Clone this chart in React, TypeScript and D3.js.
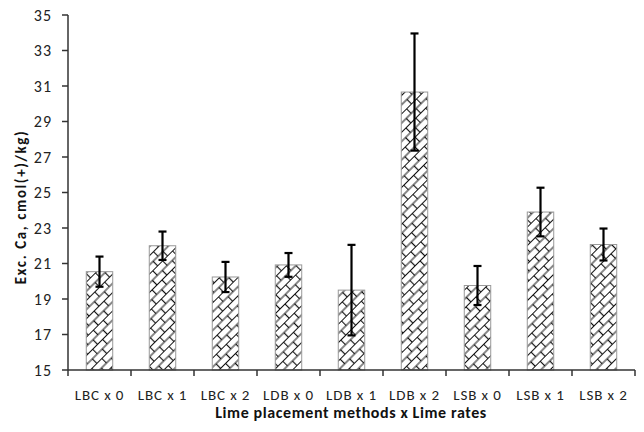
import React from "react";
import * as d3 from "d3";

const categories = ["LBC x 0", "LBC x 1", "LBC x 2", "LDB x 0", "LDB x 1", "LDB x 2", "LSB x 0", "LSB x 1", "LSB x 2"];
const means = [20.54, 22.0, 20.24, 20.92, 19.5, 30.66, 19.76, 23.9, 22.07];
const errors = [0.85, 0.8, 0.85, 0.67, 2.55, 3.3, 1.1, 1.37, 0.9];
const yTicks = [15, 17, 19, 21, 23, 25, 27, 29, 31, 33, 35];

const W = 644;
const H = 432;
const left = 68;
const right = 635;
const top = 15;
const bottom = 370;

export default function App() {
  const x = d3.scaleBand<string>().domain(categories).range([left, right]).paddingInner(0.58).paddingOuter(0.29);
  const y = d3.scaleLinear().domain([15, 35]).range([bottom, top]);
  const step = (right - left) / categories.length;
  const font = "Carlito, 'Open Sans', 'Liberation Sans', sans-serif";
  return (
    <svg width={W} height={H} style={{ position: "absolute", left: 0, top: 0, background: "#fff" }}>
      <defs>
        <pattern id="brick" patternUnits="userSpaceOnUse" width={14} height={13} patternTransform="rotate(-45)">
          <rect width={14} height={13} fill="#fff" />
          <path d="M0,0.5 H14 M0,7 H14 M0.5,0.5 V7 M7.5,7 V13" stroke="#111" strokeWidth={1.2} fill="none" />
        </pattern>
      </defs>
      {categories.map((c, i) => (
        <rect key={c} x={x(c)} y={y(means[i])} width={x.bandwidth()} height={bottom - y(means[i])}
          fill="url(#brick)" stroke="#999" strokeWidth={1} />
      ))}
      {categories.map((c, i) => {
        const cx = (x(c) as number) + x.bandwidth() / 2;
        const y1 = y(means[i] + errors[i]);
        const y2 = y(means[i] - errors[i]);
        return (
          <g key={c + "e"} stroke="#000" strokeWidth={2.2}>
            <line x1={cx} x2={cx} y1={y1} y2={y2} />
            <line x1={cx - 4} x2={cx + 4} y1={y1} y2={y1} />
            <line x1={cx - 4} x2={cx + 4} y1={y2} y2={y2} />
          </g>
        );
      })}
      <line x1={left} x2={left} y1={top} y2={bottom} stroke="#333" strokeWidth={1.5} />
      <line x1={left} x2={right} y1={bottom} y2={bottom} stroke="#333" strokeWidth={1.5} />
      {yTicks.map((t) => (
        <g key={t}>
          <line x1={left - 6} x2={left} y1={y(t)} y2={y(t)} stroke="#333" strokeWidth={1.5} />
          <text x={52} y={y(t)} dy="0.35em" textAnchor="end" fontFamily={font} fontSize={16} letterSpacing={1} fill="#222">{t}</text>
        </g>
      ))}
      {d3.range(categories.length + 1).map((i) => (
        <line key={i} x1={left + i * step} x2={left + i * step} y1={bottom} y2={bottom + 6} stroke="#333" strokeWidth={1.5} />
      ))}
      {categories.map((c) => (
        <text key={c + "t"} x={(x(c) as number) + x.bandwidth() / 2} y={400} textAnchor="middle" fontFamily={font} fontSize={15} letterSpacing={0.9} fill="#222">{c}</text>
      ))}
      <text x={351} y={418} textAnchor="middle" fontFamily={font} fontSize={16} letterSpacing={0.6} fontWeight="bold" fill="#111">Lime placement methods x Lime rates</text>
      <text transform="translate(26,207) rotate(-90)" textAnchor="middle" fontFamily={font} fontSize={15} letterSpacing={1.6} fontWeight="bold" fill="#111">Exc.  Ca, cmol(+)/kg)</text>
    </svg>
  );
}
